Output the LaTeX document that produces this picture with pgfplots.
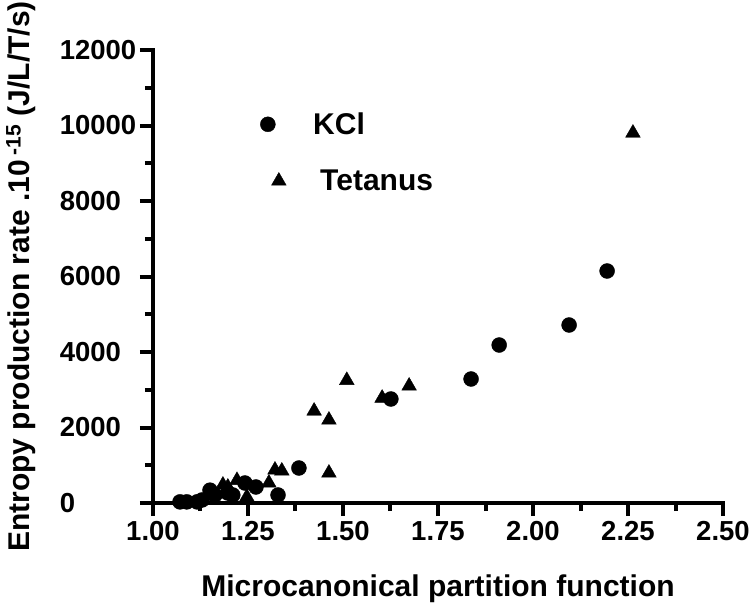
\documentclass[border=0pt]{standalone}
\usepackage{fontspec}
\setmainfont{Liberation Sans}
\usepackage{pgfplots}
\pgfplotsset{compat=1.18}
\pgfplotsset{
  legcirc/.style={legend image code/.code={\draw[##1] plot coordinates {(0pt,0pt)};}},
  legtri/.style={legend image code/.code={\draw[##1] plot coordinates {(11pt,0pt)};}},
}
\begin{document}
\begin{tikzpicture}[x=1pt,y=1pt]
\begin{axis}[
  at={(0,0)}, anchor=south west,
  scale only axis, width=570pt, height=453pt,
  xmin=1, xmax=2.5, ymin=0, ymax=12000,
  scaled x ticks=false, scaled y ticks=false,
  axis x line=bottom, axis y line=left,
  axis line style={-, line width=4pt, black, line cap=rect},
  xtick={1,1.25,1.5,1.75,2,2.25,2.5},
  xticklabels={1.00,1.25,1.50,1.75,2.00,2.25,2.50},
  ytick={0,2000,4000,6000,8000,10000,12000},
  yticklabels={0,2000,4000,6000,8000,10000,12000},
  minor x tick num=1, minor y tick num=1,
  tick align=outside,
  major tick length=13pt, minor tick length=8pt,
  tick style={line width=4pt, black},
  minor tick style={line width=4pt, black},
  ticklabel style={font=\fontsize{27.5}{27.5}\selectfont\bfseries},
  yticklabel style={anchor=east, inner sep=0pt, text width=77pt, align=left, xshift=-3pt},
  xticklabel style={yshift=-2pt},
  xlabel={Microcanonical partition function},
  ylabel={Entropy production rate .10\,\textsuperscript{-15} (J/L/T/s)},
  label style={font=\fontsize{30}{30}\selectfont\bfseries},
  xlabel style={at={(axis description cs:0.5,0)}, anchor=center, yshift=-86pt},
  ylabel style={at={(axis description cs:-0.2316,0.5)}, anchor=center},
  clip=false,
  legend style={at={(rel axis cs:0.188,0.774)}, anchor=west, draw=none, fill=none,
    inner sep=0pt, row sep=30pt,
    font=\fontsize{30}{30}\selectfont\bfseries,
    /tikz/every odd column/.append style={column sep=25pt}},
  legend cell align=left,
]
\addplot[only marks, mark=*, mark size=7.5pt, mark options={fill=black, draw=black},
  legcirc] coordinates {
(1.071,30) (1.089,30) (1.116,30) (1.129,80) (1.150,340) (1.163,210)
(1.197,265) (1.210,212) (1.242,530) (1.271,424) (1.329,212) (1.384,927)
(1.626,2755) (1.837,3285) (1.911,4185) (2.095,4715) (2.195,6146)
};
\addlegendentry{KCl}
\addplot[only marks, mark=triangle*, mark size=8.5pt, mark options={fill=black, draw=black},
  legtri] coordinates {
(1.184,477) (1.197,424) (1.221,600) (1.247,160) (1.305,530) (1.321,875)
(1.339,850) (1.424,2437) (1.463,2199) (1.463,795) (1.510,3250) (1.603,2780)
(1.674,3100) (2.263,9801)
};
\addlegendentry{\hspace{7pt}Tetanus}
\end{axis}
\pgfresetboundingbox
\path[use as bounding box] (-153pt,-111pt) rectangle (597pt,503pt);
\end{tikzpicture}
\end{document}
